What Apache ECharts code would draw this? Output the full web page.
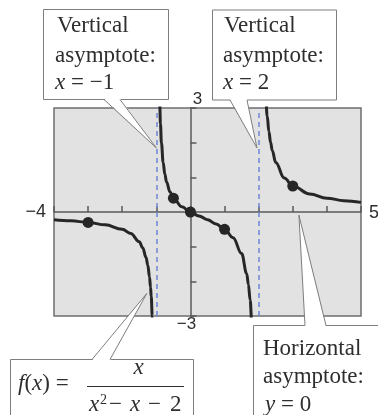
<!DOCTYPE html>
<html>
<head>
<meta charset="utf-8">
<script src="https://cdn.jsdelivr.net/npm/echarts@6/dist/echarts.min.js"></script>
<style>
html,body{margin:0;padding:0;background:#fff;}
#chartmain{width:378px;height:415px;}
</style>
</head>
<body>
<div id="chartmain"></div>
<script>
// f(x) = x/(x^2-x-2), three branches
var leftX = [-4, -3.5, -3, -2.5, -2, -1.75, -1.5, -1.4, -1.3, -1.25, -1.2, -1.17, -1.15, -1.12, -1.1];
var leftY = [-0.222, -0.255, -0.3, -0.37, -0.5, -0.622, -0.857, -1.029, -1.313, -1.538, -1.875, -2.171, -2.434, -2.991, -3.548];
var midX = [-0.92, -0.9, -0.88, -0.85, -0.8, -0.75, -0.7, -0.6, -0.5, -0.25, 0, 0.25, 0.5, 0.75, 1, 1.25, 1.5, 1.65, 1.7, 1.75, 1.8, 1.82];
var midY = [3.938, 3.103, 2.546, 1.988, 1.429, 1.091, 0.864, 0.577, 0.4, 0.148, 0, -0.114, -0.222, -0.343, -0.5, -0.741, -1.2, -1.779, -2.099, -2.545, -3.214, -3.586];
var rightX = [2.18, 2.2, 2.25, 2.3, 2.35, 2.4, 2.5, 2.75, 3, 3.5, 4, 4.5, 5];
var rightY = [3.809, 3.438, 2.769, 2.323, 2.004, 1.765, 1.429, 0.978, 0.75, 0.519, 0.4, 0.327, 0.278];
var ptX = [-3, -0.5, 0, 1, 3];
var ptY = [-0.3, 0.4, 0, -0.5, 0.75];
var asymX = [-1, 2];
var xMin = -4, xMax = 5, yMin = -3, yMax = 3;

// where the callout pointers touch the graph (data coords)
var tipVA1 = [-1, 1.85];
var tipVA2 = [1.95, 1.85];
var tipF = [-1.28, -2.35];
var tipH = [3.18, -0.09];

function zip(xs, ys) {
	var out = [];
	for (var i = 0; i < xs.length; i++) out.push([xs[i], ys[i]]);
	return out;
}

var ink = '#262626';
var axisCol = '#5a5a5a';
var serif = '"Liberation Serif","DejaVu Serif",serif';
var sans = '"Liberation Sans",Arial,sans-serif';

var myChart = echarts.init(document.getElementById("chartmain"));

function branch(xs, ys) {
	return {
		type: 'line',
		data: zip(xs, ys),
		showSymbol: false,
		smooth: 0.4,
		smoothMonotone: 'x',
		silent: true,
		z: 3,
		lineStyle: {color: ink, width: 3}
	};
}

var option = {
	animation: false,
	grid: {
		left: 54, right: 17, top: 108, bottom: 99,
		show: true,
		backgroundColor: '#e2e2e2',
		borderColor: '#6e6e6e',
		borderWidth: 1.5
	},
	xAxis: {
		type: 'value', min: xMin, max: xMax, interval: 1,
		axisLine: {onZero: true, lineStyle: {color: axisCol, width: 1.5}},
		axisTick: {inside: true, length: 6, lineStyle: {color: axisCol, width: 1.5}},
		axisLabel: {show: false},
		splitLine: {show: false}
	},
	yAxis: {
		type: 'value', min: yMin, max: yMax, interval: 1,
		axisLine: {onZero: true, lineStyle: {color: axisCol, width: 1.5}},
		axisTick: {inside: true, length: 6, lineStyle: {color: axisCol, width: 1.5}},
		axisLabel: {show: false},
		splitLine: {show: false}
	},
	series: [
		{
			type: 'line', data: [], z: 2, silent: true,
			markLine: {
				silent: true,
				symbol: ['none', 'none'],
				label: {show: false},
				lineStyle: {type: [5, 4], color: '#6f86d6', width: 1.5},
				data: asymX.map(function (v) { return {xAxis: v}; })
			}
		},
		branch(leftX, leftY),
		branch(midX, midY),
		branch(rightX, rightY),
		{
			type: 'scatter',
			data: zip(ptX, ptY),
			symbolSize: 11,
			silent: true,
			z: 4,
			itemStyle: {color: ink, opacity: 1}
		}
	]
};
myChart.setOption(option);

function px(p) {
	return myChart.convertToPixel({gridIndex: 0}, p);
}

function txt(s, x, y, size, family, align, rich) {
	var st = {
		text: s, x: x, y: y,
		fontSize: size, fontFamily: family,
		fill: '#2e2e2e',
		align: align || 'left', textAlign: align || 'left',
		verticalAlign: 'middle', textVerticalAlign: 'middle'
	};
	if (rich) st.rich = rich;
	return {type: 'text', z: 110, silent: true, style: st};
}

var richSerif = {
	n: {fontSize: 23, fontFamily: serif, fill: '#2e2e2e'},
	i: {fontSize: 23, fontFamily: serif, fontStyle: 'italic', fill: '#2e2e2e'}
};

// box + wedge pointer; base is on the box edge at y=by, going to tip
function callout(x, y, w, h, b1, b2, by, tip) {
	var t = px(tip);
	var dir = (t[1] > by) ? -1 : 1;
	return [
		{type: 'rect', z: 100, silent: true,
			shape: {x: x + 0.5, y: y + 0.5, width: w, height: h},
			style: {fill: '#fff', stroke: '#7d7d7d', lineWidth: 1}},
		{type: 'polygon', z: 101, silent: true,
			shape: {points: [[b1, by + dir], [t[0], t[1]], [b2, by + dir]]},
			style: {fill: '#fff'}},
		{type: 'polyline', z: 102, silent: true,
			shape: {points: [[b1, by], [t[0], t[1]], [b2, by]]},
			style: {fill: null, stroke: '#7d7d7d', lineWidth: 1}}
	];
}

var o = px([0, 0]);
var pMin = px([xMin, 0]);
var pMax = px([xMax, 0]);
var pTop = px([0, yMax]);
var pBot = px([0, yMin]);

var g = [];
// axis end labels
g.push(txt('\u22124', pMin[0] - 8, o[1], 18, sans, 'right'));
g.push(txt('5', pMax[0] + 8, o[1] + 1, 18, sans, 'left'));
g.push(txt('3', pTop[0] + 7, pTop[1] - 9, 17, sans, 'center'));
g.push(txt('\u22123', pBot[0] - 4, pBot[1] + 8, 17, sans, 'center'));

// vertical asymptote x = -1
g = g.concat(callout(43, 9, 125, 90, 104, 120, 99.5, tipVA1));
g.push(txt('Vertical', 57, 26, 23, serif));
g.push(txt('asymptote:', 55, 56, 23, serif));
g.push(txt('{i|x}{n| = \u22121}', 55, 83, 23, serif, 'left', richSerif));

// vertical asymptote x = 2
g = g.concat(callout(212, 9.5, 124, 90, 230, 247, 100, tipVA2));
g.push(txt('Vertical', 224, 26, 23, serif));
g.push(txt('asymptote:', 223, 56, 23, serif));
g.push(txt('{i|x}{n| = 2}', 223, 83, 23, serif, 'left', richSerif));

// function label
g = g.concat(callout(10, 359, 183, 70, 92, 110, 359.5, tipF));
g.push(txt('{i|f}{n|(}{i|x}{n|) =}', 18, 384, 23, serif, 'left', richSerif));
g.push(txt('{i|x}', 138.5, 367.5, 23, serif, 'center', richSerif));
g.push({type: 'line', z: 110, silent: true,
	shape: {x1: 87, y1: 386.5, x2: 184, y2: 386.5},
	style: {stroke: '#2e2e2e', lineWidth: 1.2}});
g.push(txt('{i|x}', 89, 405, 23, serif, 'left', richSerif));
g.push(txt('2', 100, 400, 14, serif));
g.push(txt('\u2212', 109, 405, 23, serif));
g.push(txt('{i|x}', 130, 405, 23, serif, 'left', richSerif));
g.push(txt('\u2212', 148, 405, 23, serif));
g.push(txt('2', 170, 405, 23, serif));

// horizontal asymptote y = 0
g = g.concat(callout(253, 325, 140, 100, 305, 326, 325.5, tipH));
g.push(txt('Horizontal', 263, 349, 23, serif));
g.push(txt('asymptote:', 263, 377, 23, serif));
g.push(txt('{i|y}{n| = 0}', 265, 405, 23, serif, 'left', richSerif));

myChart.setOption({graphic: {elements: g}});
</script>
</body>
</html>
